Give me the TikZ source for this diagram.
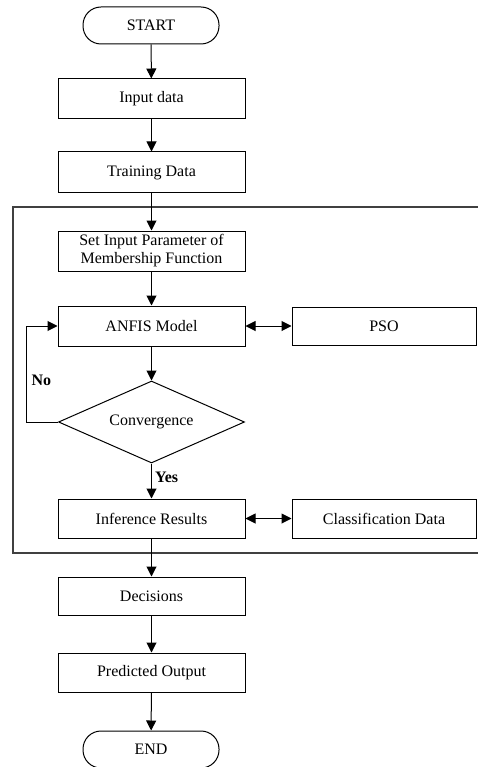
\documentclass[tikz,border=0pt]{standalone}
\usepackage{fontspec}
\setmainfont{Liberation Serif}
\usetikzlibrary{shapes.geometric,arrows.meta}

\begin{document}
\begin{tikzpicture}[x=1pt,y=-1pt,
	box/.style={rectangle, draw, line width=1pt, inner sep=0pt, minimum width=187pt, minimum height=40pt, align=center, font=\fontsize{16}{18}\selectfont},
	term/.style={box, rounded corners=18pt, minimum width=136pt, minimum height=37pt},
	side/.style={box, minimum width=184pt, minimum height=38pt},
	dec/.style={diamond, draw, line width=1pt, inner sep=1pt, aspect=2.27, minimum width=186pt, minimum height=82pt, font=\fontsize{16}{18}\selectfont},
	arr/.style={-{Triangle[length=10pt,width=10pt]}, line width=1pt},
	arr2/.style={{Triangle[length=10pt,width=10pt]}-{Triangle[length=10pt,width=10pt]}, line width=1pt},
	lab/.style={font=\fontsize{16}{18}\selectfont\bfseries, inner sep=3pt}]

	\useasboundingbox (0,0) rectangle (478,767);

	% frame round the training part
	\draw[line width=1.2pt, black!75]	(482,207) -- (13,207) -- (13,553) -- (482,553);

	\node 	(n0)		at	(151,25.5) 	[term]{START};

	\node 	(n1)		at	(151.5,99) 	[box]{Input data};

	\node 	(n2)		at	(151.5,172.5) 	[box, minimum height=41pt]{Training Data};

	\node 	(n3)		at	(151.5,251) 	[box]{Set Input Parameter of\\Membership Function};

	\node 	(n4)		at	(151.5,326) 	[box]{ANFIS Model};
	\node 	(n5)		at	(384,326) 	[side]{PSO};

	\node 	(n6)		at	(151.5,422) 	[dec]{Convergence};

	\node 	(n7)		at	(151.5,518.5) 	[box, minimum height=39pt]{Inference Results};
	\node 	(n8)		at	(384,518.5) 	[side, minimum height=39pt]{Classification Data};

	\node 	(n9)		at	(151.5,596) 	[box, minimum height=38pt]{Decisions};

	\node 	(n10)		at	(151.5,672.5) 	[box, minimum height=39pt]{Predicted Output};

	\node 	(n11)		at	(151,749.5) 	[term]{END};

	\coordinate	(c0)	at	(26,422);
	\coordinate	(c1)	at	(26,326);

	\draw[arr]	(n0)	to	(n1);
	\draw[arr]	(n1)	to	(n2);
	\draw[arr]	(n2)	to	(n3);
	\draw[arr]	(n3)	to	(n4);
	\draw[arr]	(n4)	to	(n6);
	\draw[arr]	(n6)	to	node[auto, lab, pos=0.4]{Yes}	(n7);
	\draw[arr]	(n7)	to	(n9);
	\draw[arr]	(n9)	to	(n10);
	\draw[arr]	(n10)	to	(n11);

	\draw[arr2]	(n4.east)	to	(n5.west);
	\draw[arr2]	(n7.east)	to	(n8.west);

	\draw[arr]	(n6.west)	--	(c0)	--	node[lab, pos=0.43, right=2pt]{No}	(c1)	--	(n4.west);

\end{tikzpicture}
\end{document}
